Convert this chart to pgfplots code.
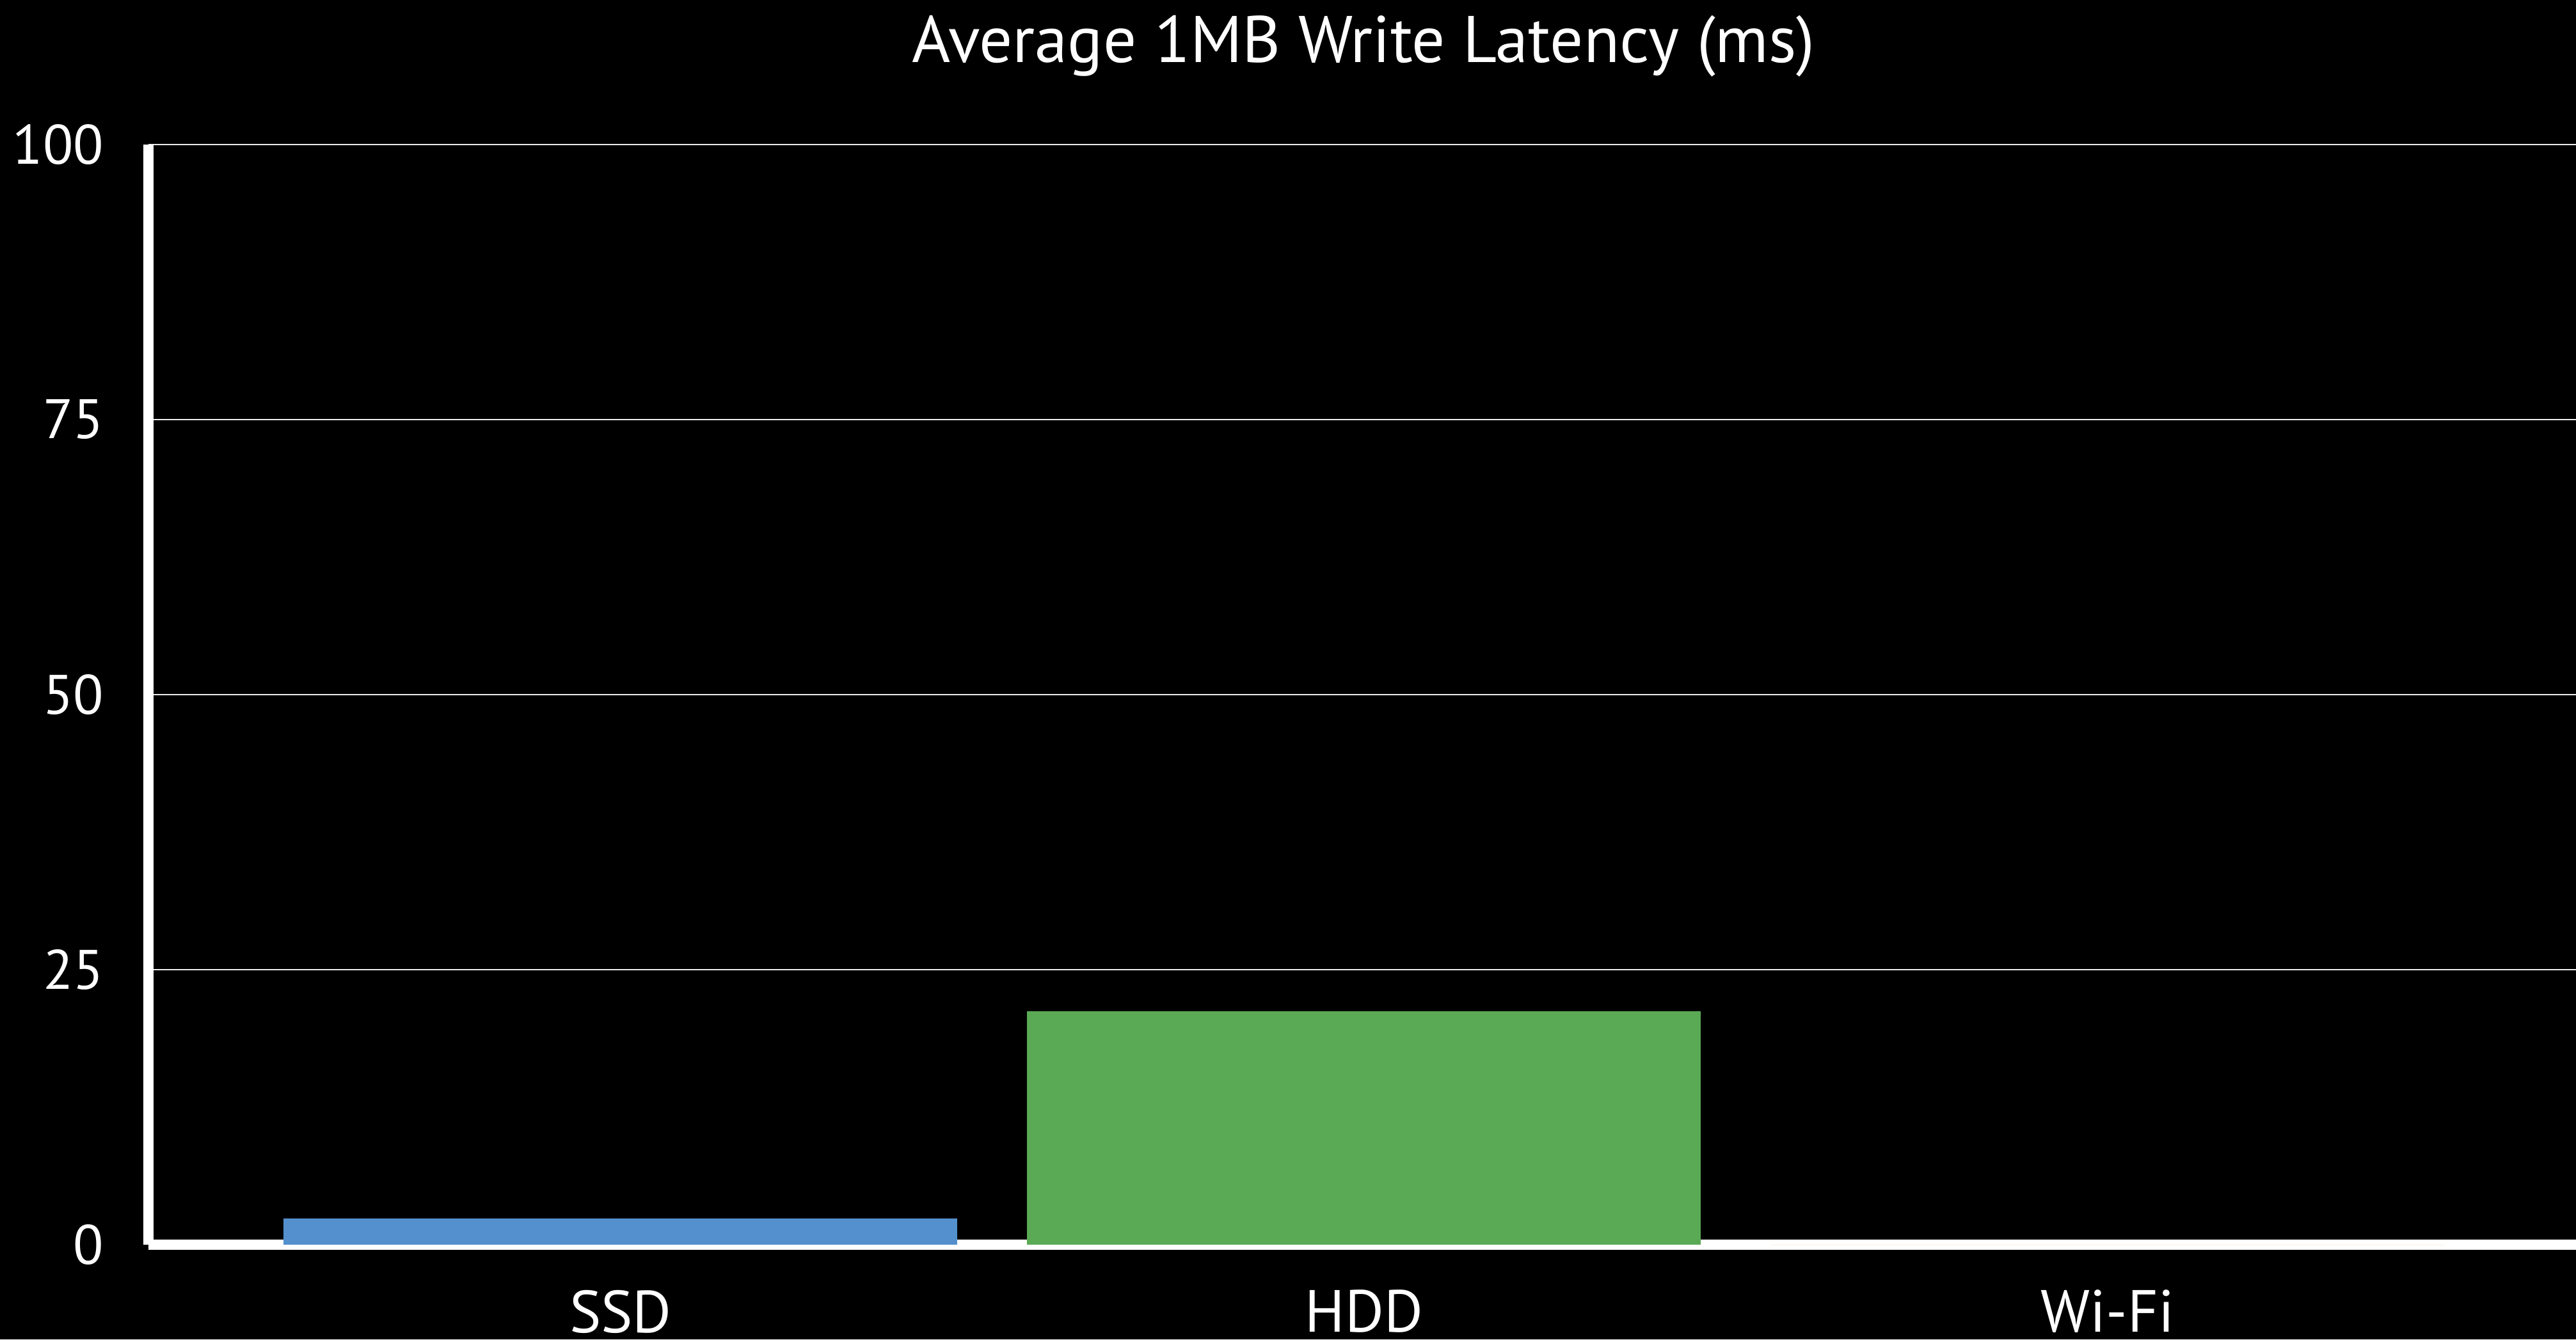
\documentclass[border=0pt]{standalone}
\usepackage{fontspec}
\setmainfont{PT Sans}
\usepackage{pgfplots}
\pgfplotsset{compat=1.18}
\definecolor{ssdblue}{RGB}{83,144,205}
\definecolor{hddgreen}{RGB}{90,170,85}
\definecolor{wifiorange}{RGB}{230,140,50}
\begin{document}
\begin{tikzpicture}
\fill[black] (0,0) rectangle (402.6pt,209.4pt);
\useasboundingbox (0,0) rectangle (402.6pt,209.4pt);
\begin{axis}[
  at={(23.2pt,14.8pt)}, anchor=south west,
  scale only axis, width=379.4pt, height=172pt,
  xmin=-0.635, xmax=2.63, ymin=0, ymax=100,
  axis x line*=bottom, axis y line*=left,
  axis line style={white, line width=1.6pt},
  ytick={0,25,50,75,100},
  xtick={0,1,2}, xticklabels={SSD,HDD,Wi-Fi},
  major tick length=0pt,
  ymajorgrids, grid style={white!92!black, line width=0.25pt},
  tick label style={white},
  /pgf/number format/assume math mode=true,
  yticklabel style={font=\fontsize{8.7}{10}\selectfont, inner sep=0pt, anchor=east, xshift=-6.8pt},
  xticklabel style={font=\fontsize{9.3}{11}\selectfont, inner sep=0pt, anchor=north, yshift=-6.9pt},
  ybar, bar width=105.3pt, bar shift=0pt,
]
\addplot[fill=ssdblue, draw=none] coordinates {(0,2.4)};
\addplot[fill=hddgreen, draw=none] coordinates {(1,21.2)};
\addplot[fill=wifiorange, draw=none] coordinates {(2,0)};
\end{axis}
\node[white, anchor=base, font=\fontsize{10.3}{12}\selectfont] at (213.1pt,199.7pt) {Average 1MB Write Latency (ms)};
\end{tikzpicture}
\end{document}
